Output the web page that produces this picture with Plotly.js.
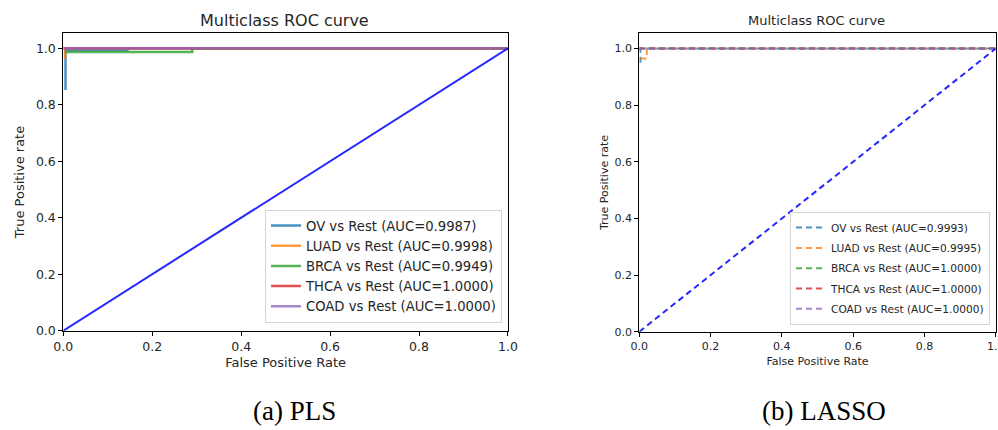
<!DOCTYPE html>
<html>
<head>
<meta charset="utf-8">
<script src="https://cdn.plot.ly/plotly-3.0.1.min.js"></script>
<style>html,body{margin:0;padding:0;background:#fff;}#chart{width:998px;height:430px;}</style>
</head>
<body>
<div id="chart"></div>
<script>
// ---- Data (visible portions of each ROC curve) ----
const classNames = ["OV", "LUAD", "BRCA", "THCA", "COAD"];
const classColors = ["#1f77b4", "#ff7f0e", "#2ca02c", "#d62728", "#9467bd"];

// (a) PLS
const plsAUC = ["0.9987", "0.9998", "0.9949", "1.0000", "1.0000"];
const plsOvFpr   = [0.005, 0.005, 0.144, 0.144, 1];
const plsOvTpr   = [0.852, 0.993, 0.993, 1, 1];
const plsLuadFpr = [0.004, 0.004, 1];
const plsLuadTpr = [0.962, 1, 1];
const plsBrcaFpr = [0.004, 0.29, 0.29, 1];
const plsBrcaTpr = [0.987, 0.987, 1, 1];
const plsThcaFpr = [0, 1];
const plsThcaTpr = [1, 1];
const plsCoadFpr = [0, 1];
const plsCoadTpr = [1, 1];

// (b) LASSO
const lassoAUC = ["0.9993", "0.9995", "1.0000", "1.0000", "1.0000"];
const lassoOvFpr   = [0.003, 0.003, 1];
const lassoOvTpr   = [0.95, 1, 1];
const lassoLuadFpr = [0.003, 0.021, 0.021, 1];
const lassoLuadTpr = [0.965, 0.965, 1, 1];
const lassoBrcaFpr = [0, 1];
const lassoBrcaTpr = [1, 1];
const lassoThcaFpr = [0, 1];
const lassoThcaTpr = [1, 1];
const lassoCoadFpr = [0, 1];
const lassoCoadTpr = [1, 1];

const chanceX = [0, 1];
const chanceY = [0, 1];

const tickVals = [0, 0.2, 0.4, 0.6, 0.8, 1.0];
const tickText = ["0.0", "0.2", "0.4", "0.6", "0.8", "1.0"];

// ---- Build traces ----
const plsCurves = [[plsOvFpr, plsOvTpr], [plsLuadFpr, plsLuadTpr], [plsBrcaFpr, plsBrcaTpr], [plsThcaFpr, plsThcaTpr], [plsCoadFpr, plsCoadTpr]];
const lassoCurves = [[lassoOvFpr, lassoOvTpr], [lassoLuadFpr, lassoLuadTpr], [lassoBrcaFpr, lassoBrcaTpr], [lassoThcaFpr, lassoThcaTpr], [lassoCoadFpr, lassoCoadTpr]];

const traces = [];
plsCurves.forEach((c, i) => {
  traces.push({
    x: c[0], y: c[1], type: "scatter", mode: "lines",
    name: classNames[i] + " vs Rest (AUC=" + plsAUC[i] + ")",
    line: {color: classColors[i], width: 2.5},
    opacity: 0.8, xaxis: "x", yaxis: "y", legend: "legend"
  });
});
traces.push({x: chanceX, y: chanceY, type: "scatter", mode: "lines", showlegend: false,
  line: {color: "#0000ff", width: 2}, opacity: 0.85, xaxis: "x", yaxis: "y"});

lassoCurves.forEach((c, i) => {
  traces.push({
    x: c[0], y: c[1], type: "scatter", mode: "lines",
    name: classNames[i] + " vs Rest (AUC=" + lassoAUC[i] + ")",
    legendgroup: "l" + i,
    line: {color: classColors[i], width: 2, dash: "6px,4px"},
    opacity: 0.8, xaxis: "x2", yaxis: "y2", legend: "legend2"
  });
});
traces.push({x: chanceX, y: chanceY, type: "scatter", mode: "lines", showlegend: false,
  line: {color: "#0000ff", width: 2, dash: "6px,4px"}, opacity: 0.85, xaxis: "x2", yaxis: "y2"});

const FONT = "DejaVu Sans, Verdana, sans-serif";
const TXT = "#262626";

function axis(extra) {
  return Object.assign({
    showline: true, mirror: true, linecolor: "#000", linewidth: 1,
    ticks: "outside", ticklen: 4, tickwidth: 1, tickcolor: "#000",
    showgrid: false, zeroline: false, tickvals: tickVals, ticktext: tickText,
    automargin: false, fixedrange: true
  }, extra);
}

const layout = {
  width: 998, height: 430,
  margin: {l: 0, r: 0, t: 0, b: 0},
  paper_bgcolor: "#fff", plot_bgcolor: "#fff",
  font: {family: FONT, color: TXT},
  xaxis: axis({domain: [0.0634, 0.5090], range: [0, 1], anchor: "y",
    tickfont: {size: 12.5, color: TXT},
    title: {text: "False Positive Rate", font: {size: 13, color: TXT}, standoff: 5}}),
  yaxis: axis({domain: [0.2309, 0.9226], range: [0, 1.053], anchor: "x",
    tickfont: {size: 12.5, color: TXT},
    title: {text: "True Positive rate", font: {size: 13, color: TXT}, standoff: 8}}),
  xaxis2: axis({domain: [0.6406, 0.9977], range: [0, 1], anchor: "y2",
    tickfont: {size: 11, color: TXT}, ticklabeloverflow: "allow",
    title: {text: "False Positive Rate", font: {size: 11, color: TXT}, standoff: 5}}),
  yaxis2: axis({domain: [0.2286, 0.9226], range: [0, 1.054], anchor: "x2",
    tickfont: {size: 11, color: TXT},
    title: {text: "True Positive rate", font: {size: 11, color: TXT}, standoff: 3}}),
  legend: {
    x: 0.503, y: 0.25, xanchor: "right", yanchor: "bottom",
    bgcolor: "rgba(255,255,255,0.85)", bordercolor: "#d6d6d6", borderwidth: 1,
    font: {size: 13.2, color: TXT, family: FONT}, itemwidth: 30, tracegroupgap: 0
  },
  legend2: {
    x: 0.992, y: 0.244, xanchor: "right", yanchor: "bottom",
    bgcolor: "rgba(255,255,255,0.85)", bordercolor: "#d6d6d6", borderwidth: 1,
    font: {size: 10.6, color: TXT, family: FONT}, itemwidth: 30,
    traceorder: "grouped", tracegroupgap: 1.3
  },
  annotations: [
    {text: "Multiclass ROC curve", xref: "paper", yref: "paper", x: 0.2853, y: 0.9519,
     xanchor: "center", yanchor: "middle", showarrow: false, font: {size: 16, color: TXT, family: FONT}},
    {text: "Multiclass ROC curve", xref: "paper", yref: "paper", x: 0.8186, y: 0.9519,
     xanchor: "center", yanchor: "middle", showarrow: false, font: {size: 13, color: TXT, family: FONT}},
    {text: "(a) PLS", xref: "paper", yref: "paper", x: 0.2946, y: 0.0442,
     xanchor: "center", yanchor: "middle", showarrow: false,
     font: {size: 27, color: "#000", family: "Liberation Serif, Times New Roman, serif"}},
    {text: "(b) LASSO", xref: "paper", yref: "paper", x: 0.8257, y: 0.0442,
     xanchor: "center", yanchor: "middle", showarrow: false,
     font: {size: 27, color: "#000", family: "Liberation Serif, Times New Roman, serif"}}
  ]
};

Plotly.newPlot("chart", traces, layout, {displayModeBar: false, staticPlot: true});
</script>
</body>
</html>
